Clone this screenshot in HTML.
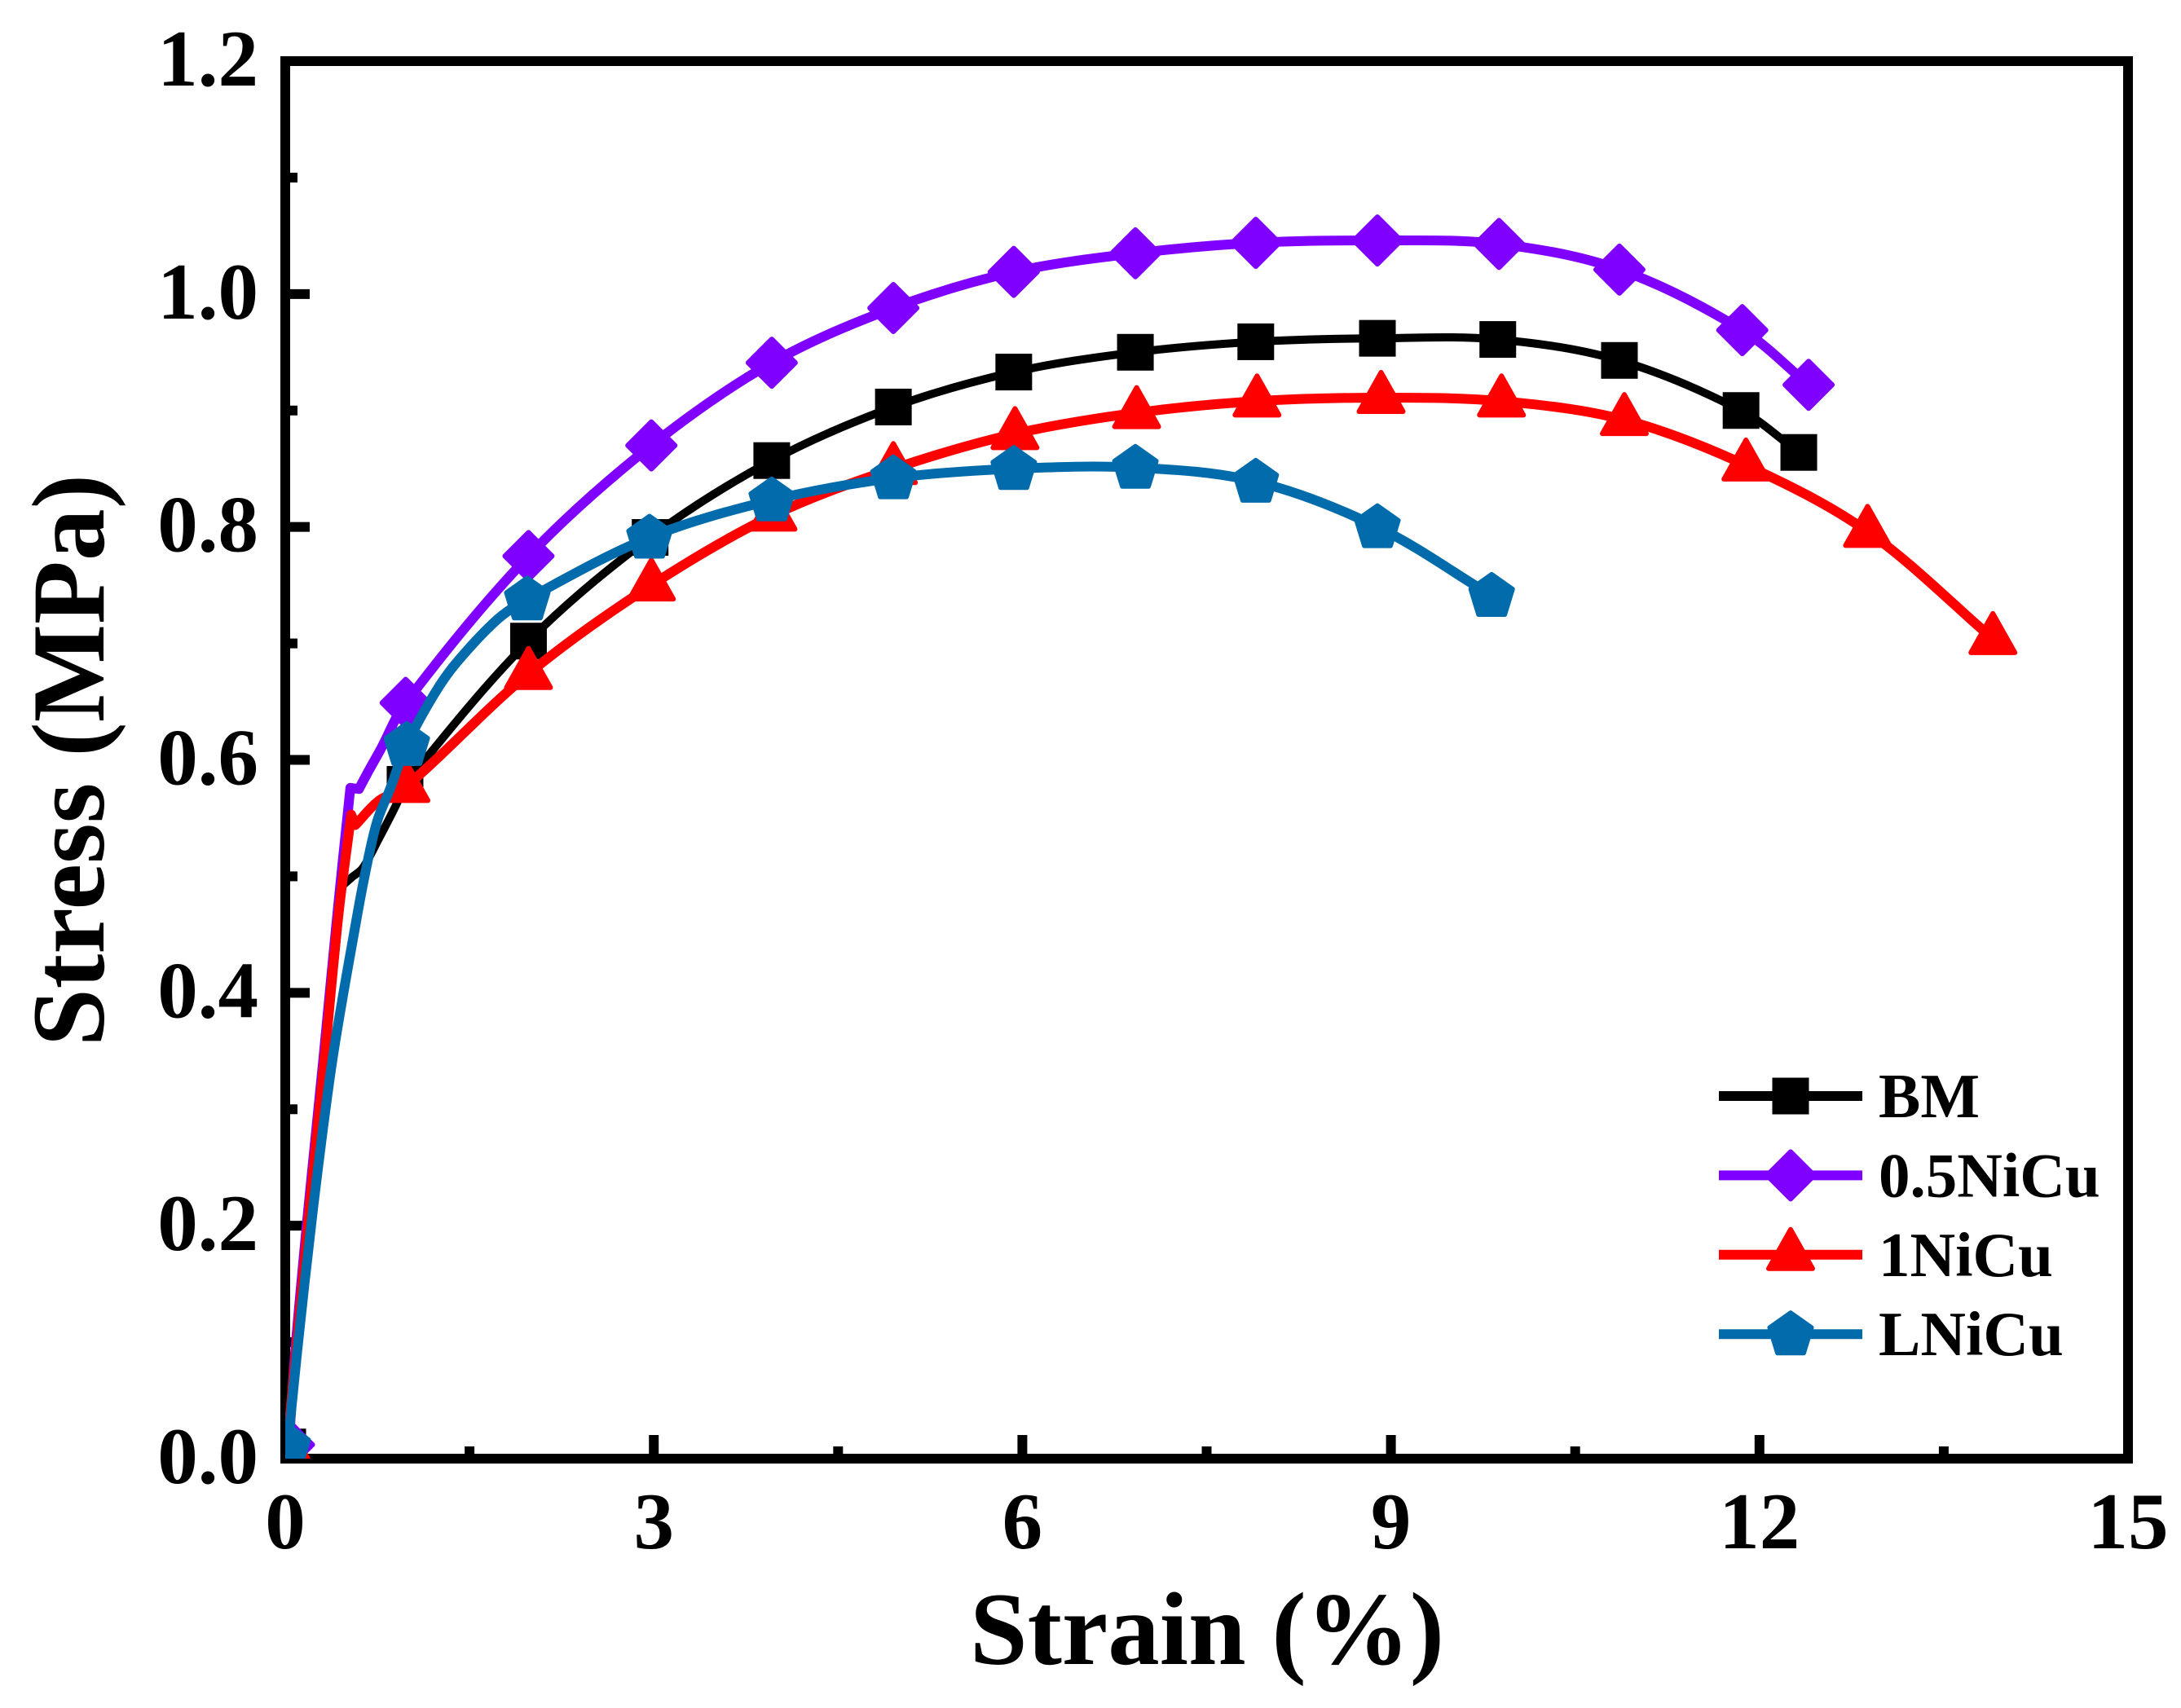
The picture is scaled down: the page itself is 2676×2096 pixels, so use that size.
<!DOCTYPE html>
<html lang="en">
<head>
<meta charset="utf-8">
<title>Stress-Strain Curves</title>
<style>
html,body{margin:0;padding:0;background:#fff;width:2676px;height:2096px;overflow:hidden}
svg{display:block}
text{font-family:"Liberation Serif",serif;font-weight:bold;fill:#000}
</style>
</head>
<body>
<svg id="chart" xmlns="http://www.w3.org/2000/svg" width="2676" height="2096" viewBox="0 0 2676 2096">
  <defs>
    <clipPath id="plot-clip"><rect x="350" y="75" width="2261" height="1715"/></clipPath>
  </defs>
  <rect x="0" y="0" width="2676" height="2096" fill="#ffffff"/>
  <rect x="350" y="75" width="2261" height="1715" fill="none" stroke="#000" stroke-width="12"/>
  <g id="tick-layer"></g>
  <g id="series-layer" clip-path="url(#plot-clip)"></g>
  <text x="1481" y="2042" font-size="127" text-anchor="middle">Strain (%)</text>
  <text transform="translate(127,933) rotate(-90)" font-size="127.5" text-anchor="middle">Stress (MPa)</text>
  <g id="legend-layer"></g>
</svg>
<script>
var xTickValues = [0, 3, 6, 9, 12, 15];
var xMinorValues = [1.5, 4.5, 7.5, 10.5, 13.5];
var yTickValues = [0, 0.2, 0.4, 0.6, 0.8, 1.0, 1.2];
var yMinorValues = [0.1, 0.3, 0.5, 0.7, 0.9, 1.1];
var xTickLabels = ['0', '3', '6', '9', '12', '15'];
var yTickLabels = ['0.0', '0.2', '0.4', '0.6', '0.8', '1.0', '1.2'];

var bmStrain = [0.02, 0.075, 0.195, 0.32, 0.44, 0.465, 0.54, 0.63, 0.76, 0.91, 0.975, 1.98, 2.97, 3.96, 4.95, 5.93, 6.92, 7.90, 8.89, 9.87, 10.86, 11.85, 12.32];
var bmStress = [0.01, 0.091, 0.217, 0.343, 0.469, 0.492, 0.499, 0.507, 0.532, 0.563, 0.579, 0.702, 0.791, 0.857, 0.903, 0.933, 0.950, 0.959, 0.962, 0.961, 0.943, 0.900, 0.864];
var bmPlainPoints = [1, 2, 3, 4, 5, 6, 7, 8, 9];

var niCu05Strain = [0.03, 0.08, 0.19, 0.31, 0.425, 0.53, 0.60, 0.66, 0.776, 0.98, 1.98, 2.98, 3.96, 4.95, 5.93, 6.92, 7.90, 8.89, 9.88, 10.86, 11.86, 12.40];
var niCu05Stress = [0.012, 0.091, 0.217, 0.343, 0.469, 0.576, 0.575, 0.587, 0.609, 0.649, 0.775, 0.870, 0.941, 0.988, 1.019, 1.035, 1.044, 1.046, 1.043, 1.021, 0.969, 0.922];
var niCu05PlainPoints = [1, 2, 3, 4, 5, 6, 7, 8];

var niCu1Strain = [0.015, 0.086, 0.199, 0.319, 0.435, 0.537, 0.57, 0.763, 0.982, 1.98, 2.98, 3.97, 4.95, 5.94, 6.93, 7.91, 8.92, 9.90, 10.90, 11.89, 12.88, 13.90];
var niCu1Stress = [0.01, 0.091, 0.217, 0.343, 0.469, 0.553, 0.544, 0.565, 0.577, 0.674, 0.750, 0.810, 0.850, 0.880, 0.898, 0.908, 0.911, 0.908, 0.892, 0.853, 0.796, 0.704];
var niCu1PlainPoints = [1, 2, 3, 4, 5, 6, 7];

var lNiCuStrain = [0.02, 0.096, 0.229, 0.385, 0.59, 0.677, 0.75, 0.849, 0.989, 1.21, 1.39, 1.72, 1.97, 2.965, 3.96, 4.95, 5.93, 6.92, 7.90, 8.89, 9.82];
var lNiCuStress = [0.0105, 0.091, 0.217, 0.343, 0.469, 0.516, 0.548, 0.574, 0.613, 0.656, 0.683, 0.720, 0.738, 0.791, 0.823, 0.842, 0.850, 0.851, 0.839, 0.800, 0.741];
var lNiCuPlainPoints = [1, 2, 3, 4, 5, 6, 7, 9, 10, 11];

var SVGNS = 'http://www.w3.org/2000/svg';
var X0 = 350, X1 = 2611, Y0 = 1790, Y1 = 75;
function sx(v) { return X0 + (v / 15) * (X1 - X0); }
function sy(v) { return Y0 - (v / 1.2) * (Y0 - Y1); }

function make(tag, attrs, parent) {
  var el = document.createElementNS(SVGNS, tag);
  for (var k in attrs) el.setAttribute(k, attrs[k]);
  parent.appendChild(el);
  return el;
}

var tickLayer = document.getElementById('tick-layer');
xTickValues.forEach(function (v, i) {
  var t = make('line', { x1: sx(v), x2: sx(v), y1: Y0, y2: Y0 - 29, stroke: '#000', 'stroke-width': 12 }, tickLayer);
  
  
  var l = make('text', { x: sx(v), y: 1900, 'font-size': 99, 'text-anchor': 'middle' }, tickLayer);
  l.textContent = xTickLabels[i];
  
  
});
xMinorValues.forEach(function (v) {
  var t = make('line', { x1: sx(v), x2: sx(v), y1: Y0, y2: Y0 - 15, stroke: '#000', 'stroke-width': 12 }, tickLayer);
  
  
});
yTickValues.forEach(function (v, i) {
  var t = make('line', { x1: X0, x2: X0 + 30, y1: sy(v), y2: sy(v), stroke: '#000', 'stroke-width': 12 }, tickLayer);
  
  
  var l = make('text', { x: 317, y: sy(v) + 30, 'font-size': 99, 'text-anchor': 'end' }, tickLayer);
  l.textContent = yTickLabels[i];
  
  
});
yMinorValues.forEach(function (v) {
  var t = make('line', { x1: X0, x2: X0 + 15, y1: sy(v), y2: sy(v), stroke: '#000', 'stroke-width': 12 }, tickLayer);
  
  
});

function unit(a, b) {
  var dx = b[0] - a[0], dy = b[1] - a[1], n = Math.hypot(dx, dy) || 1;
  return [dx / n, dy / n];
}

function curvePath(pts) {
  var d = 'M' + pts[0][0].toFixed(1) + ' ' + pts[0][1].toFixed(1);
  function tangents(i) {
    var inU = unit(pts[Math.max(i - 1, 0)], pts[i]);
    var outU = unit(pts[i], pts[Math.min(i + 1, pts.length - 1)]);
    if (i === 0) inU = outU;
    if (i === pts.length - 1) outU = inU;
    var dot = inU[0] * outU[0] + inU[1] * outU[1];
    if (dot < 0.9) return { inT: inU, outT: outU };
    var mid = unit(pts[Math.max(i - 1, 0)], pts[Math.min(i + 1, pts.length - 1)]);
    return { inT: mid, outT: mid };
  }
  for (var i = 0; i < pts.length - 1; i++) {
    var p = pts[i], q = pts[i + 1];
    var len = Math.hypot(q[0] - p[0], q[1] - p[1]) / 3;
    var t0 = tangents(i).outT, t1 = tangents(i + 1).inT;
    d += 'C' + (p[0] + t0[0] * len).toFixed(1) + ' ' + (p[1] + t0[1] * len).toFixed(1) + ' ' +
         (q[0] - t1[0] * len).toFixed(1) + ' ' + (q[1] - t1[1] * len).toFixed(1) + ' ' +
         q[0].toFixed(1) + ' ' + q[1].toFixed(1);
  }
  return d;
}

function drawMarker(parent, shape, color, cx, cy) {
  var el;
  if (shape === 'square') {
    el = make('rect', { x: cx - 22.5, y: cy - 22.5, width: 45, height: 45, fill: color }, parent);
  } else {
    var pts;
    if (shape === 'diamond') pts = [[0, -29], [29, 0], [0, 29], [-29, 0]];
    if (shape === 'triangle') pts = [[0, -31], [-27, 17], [27, 17]];
    if (shape === 'pentagon') pts = [[0, -26], [25.5, -8], [16, 23], [-16, 23], [-25.5, -8]];
    el = make('polygon', {
      points: pts.map(function (p) { return (cx + p[0]) + ',' + (cy + p[1]); }).join(' '),
      fill: color, stroke: color, 'stroke-width': 6, 'stroke-linejoin': 'round'
    }, parent);
  }
  return el;
}

function drawSeries(name, strain, stress, plain, color, shape, width) {
  var layer = document.getElementById('series-layer');
  var g = make('g', {}, layer);
  
  
  var pts = strain.map(function (v, i) { return [sx(v), sy(stress[i])]; });
  var path = make('path', { d: curvePath(pts), fill: 'none', stroke: color, 'stroke-width': width, 'stroke-linejoin': 'round', 'stroke-linecap': 'round' }, g);
  
  
  pts.forEach(function (p, i) {
    if (plain.indexOf(i) >= 0) return;
    var m = drawMarker(g, shape, color, p[0], p[1]);
    
    
  });
}

drawSeries('bm', bmStrain, bmStress, bmPlainPoints, '#000000', 'square', 10);
drawSeries('0-5nicu', niCu05Strain, niCu05Stress, niCu05PlainPoints, '#8000ff', 'diamond', 12);
drawSeries('1nicu', niCu1Strain, niCu1Stress, niCu1PlainPoints, '#ff0000', 'triangle', 12);
drawSeries('lnicu', lNiCuStrain, lNiCuStress, lNiCuPlainPoints, '#026bab', 'pentagon', 12);

var legendNames = ['BM', '0.5NiCu', '1NiCu', 'LNiCu'];
var legendColors = ['#000000', '#8000ff', '#ff0000', '#026bab'];
var legendShapes = ['square', 'diamond', 'triangle', 'pentagon'];
var legendLayer = document.getElementById('legend-layer');
legendNames.forEach(function (name, i) {
  var cy = 1345 + i * 97.4;
  var g = make('g', {}, legendLayer);
  
  
  var line = make('line', { x1: 2109, x2: 2285, y1: cy, y2: cy, stroke: legendColors[i], 'stroke-width': 12 }, g);
  
  
  var m = drawMarker(g, legendShapes[i], legendColors[i], 2197, cy);
  
  
  var t = make('text', { x: 2305, y: cy + 26, 'font-size': 77 }, g);
  t.textContent = name;
  
  
});
</script>
</body>
</html>
